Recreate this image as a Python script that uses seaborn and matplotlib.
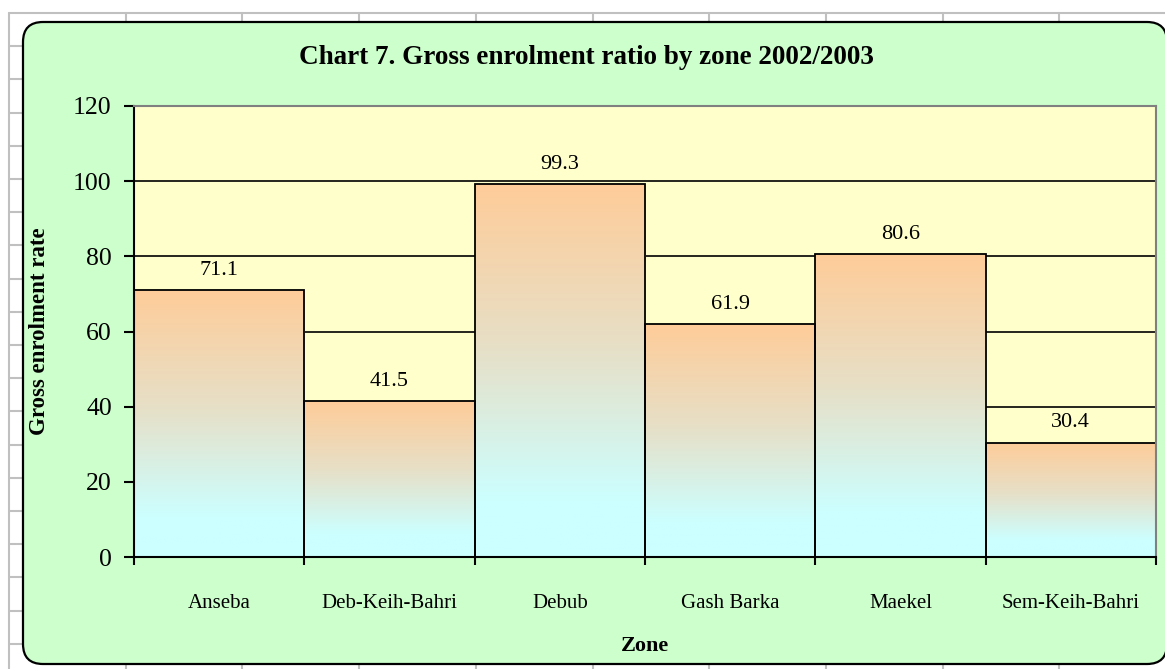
import numpy as np
import matplotlib
matplotlib.use("Agg")
import matplotlib.pyplot as plt
import seaborn as sns
from matplotlib.lines import Line2D
from matplotlib.patches import FancyBboxPatch
from matplotlib.colors import LinearSegmentedColormap

# --- data ---
zones = ["Anseba", "Deb-Keih-Bahri", "Debub", "Gash Barka", "Maekel", "Sem-Keih-Bahri"]
ratios = [71.1, 41.5, 99.3, 61.9, 80.6, 30.4]
y_ticks = [0, 20, 40, 60, 80, 100, 120]

sns.set_theme(style="white")
plt.rcParams.update({
    "font.family": ["Liberation Serif", "DejaVu Serif"],
    "font.size": 15,
    "text.color": "black",
    "axes.labelcolor": "black",
    "xtick.color": "black",
    "ytick.color": "black",
})

W, H, DPI = 1165, 669, 100
fig = plt.figure(figsize=(W / DPI, H / DPI), dpi=DPI, facecolor="white")

# spreadsheet cell grid behind the chart
for k in range(11):
    x = (9 + 116.7 * k) / W
    fig.add_artist(Line2D([x, x], [0, 1 - 13 / H], transform=fig.transFigure,
                          color="#c0c0c0", lw=1.5, zorder=0))
for k in range(20):
    y = 1 - (13 + 33.2 * k) / H
    if y < 0:
        break
    fig.add_artist(Line2D([9 / W, 1], [y, y], transform=fig.transFigure,
                          color="#c0c0c0", lw=1.5, zorder=0))

# rounded green chart area
box = FancyBboxPatch((0.23, 0.05), 11.44, 6.42,
                     boxstyle="round,pad=0,rounding_size=0.2",
                     transform=fig.dpi_scale_trans, facecolor="#ccffcc",
                     edgecolor="black", lw=1.6, zorder=1)
fig.add_artist(box)

ax = fig.add_axes([134 / W, 1 - 557 / H, (1156 - 134) / W, (557 - 106) / H], zorder=2)
ax.set_facecolor("#ffffcc")

sns.barplot(x=zones, y=ratios, width=1, color="#ffcc99", edgecolor="black",
            linewidth=1.3, ax=ax)

# gradient fill clipped to each bar
cmap = LinearSegmentedColormap.from_list(
    "bar", [(0, "#ccffff"), (0.15, "#ccffff"), (0.55, "#e6e0c8"), (1, "#ffcc99")])
grad = np.linspace(0, 1, 256).reshape(-1, 1)
for patch in ax.patches:
    x0, w, h = patch.get_x(), patch.get_width(), patch.get_height()
    im = ax.imshow(grad, cmap=cmap, origin="lower", aspect="auto",
                   extent=[x0, x0 + w, 0, h], zorder=1.5)
    im.set_clip_path(patch)
    patch.set_facecolor("none")
    patch.set_zorder(2)

for i, v in enumerate(ratios):
    ax.annotate(f"{v:.1f}", (i, v), xytext=(0, 11), textcoords="offset points",
                ha="center", va="baseline", fontsize=16)

ax.set_xlim(-0.5, len(zones) - 0.5)
ax.set_ylim(0, 120)
ax.set_yticks(y_ticks)
ax.yaxis.grid(True, color="black", lw=1.2)
ax.set_axisbelow(True)

ax.tick_params(axis="y", direction="out", length=7, width=1.5, color="black",
               labelsize=18.5, pad=9, left=True)
ax.set_xticks(range(len(zones)))
ax.set_xticklabels(zones, fontsize=15)
ax.set_xticks(np.arange(-0.5, len(zones)), minor=True)
ax.tick_params(axis="x", which="major", length=0, pad=27)
ax.tick_params(axis="x", which="minor", direction="out", length=6, width=1.5,
               color="black", bottom=True)

for side in ["left", "bottom"]:
    ax.spines[side].set_color("black")
    ax.spines[side].set_linewidth(1.5)
for side in ["top", "right"]:
    ax.spines[side].set_color("#808080")
    ax.spines[side].set_linewidth(1.5)

ax.set_ylabel("Gross enrolment rate", fontsize=16.5, weight="bold")
ax.yaxis.set_label_coords(-0.082, 0.5)
ax.set_xlabel("Zone", fontsize=16, weight="bold")
ax.xaxis.set_label_coords(0.5, -0.175)

fig.text(586 / W, 1 - 58 / H, "Chart 7. Gross enrolment ratio by zone 2002/2003",
         ha="center", va="center", fontsize=19.5, weight="bold")

fig.savefig("out.png", dpi=DPI, facecolor="white")
